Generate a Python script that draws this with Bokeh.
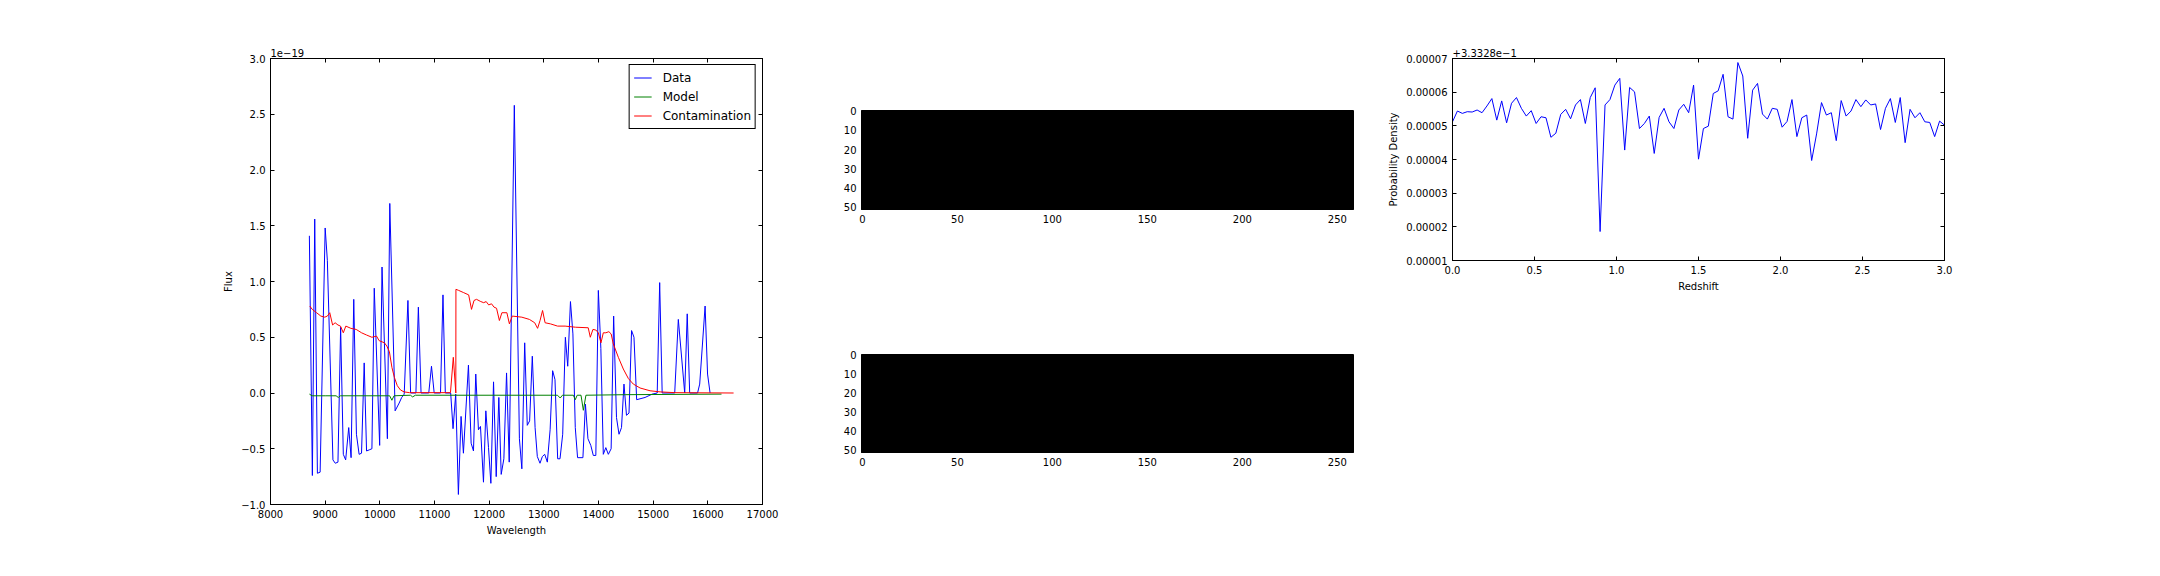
import numpy as np
from bokeh.plotting import figure
from bokeh.layouts import row, column
from bokeh.models import (Range1d, LinearAxis, FixedTicker, CustomJSTickFormatter,
                          LinearColorMapper, Spacer)
from bokeh.embed import file_html
from bokeh.resources import INLINE

# ---------------- data ----------------
# Spectrum panel (flux in units of 1e-19)
data_wave = [8711, 8766, 8809, 8858, 8908, 9000, 9040, 9142, 9185, 9234, 9283, 9332, 9375,
             9431, 9474, 9523, 9572, 9621, 9665, 9714, 9757, 9806, 9855, 9898, 9997, 10040,
             10138, 10182, 10280, 10354, 10400, 10446, 10514, 10563, 10660, 10705, 10754,
             10895, 10945, 10994, 11110, 11155, 11198, 11296, 11339, 11388, 11437, 11486,
             11529, 11621, 11670, 11713, 11755, 11804, 11841, 11896, 11939, 11988, 12031,
             12080, 12129, 12177, 12220, 12269, 12318, 12367, 12460, 12553, 12598, 12650,
             12697, 12740, 12789, 12840, 12881, 12930, 12973, 13016, 13064, 13115, 13161,
             13204, 13253, 13296, 13345, 13394, 13437, 13487, 13532, 13575, 13617, 13715,
             13761, 13807, 13859, 13905, 13951, 13997, 14043, 14088, 14134, 14180, 14231,
             14277, 14329, 14375, 14421, 14466, 14512, 14558, 14605, 14649, 14698, 14852,
             14982, 15074, 15119, 15165, 15394, 15460, 15577, 15623, 15668, 15812, 15851,
             15950, 15995, 16041]
data_flux = [1.41, -0.74, 1.56, -0.72, -0.71, 1.48, 1.19, -0.60, -0.63, -0.62, 0.59, -0.55, -0.60,
             -0.31, -0.58, 0.84, -0.37, -0.55, -0.54, 0.27, -0.52, -0.51, -0.50, 0.94, -0.47, 1.13,
             -0.41, 1.70, -0.16, -0.09, -0.04, -0.01, 0.83, 0.0, 0.0, 0.77, 0.0,
             0.0, 0.24, 0.0, 0.0, 0.88, 0.0, 0.0, -0.32, -0.01, -0.91, -0.21,
             -0.54, 0.25, -0.45, -0.52, 0.17, -0.33, -0.30, -0.80, -0.16, -0.49, -0.81,
             0.10, -0.75, -0.04, -0.73, -0.59, 0.18, -0.62, 2.58, -0.41, -0.68, 0.45,
             -0.29, -0.25, 0.33, -0.31, -0.57, -0.63, -0.57, -0.55, -0.62, -0.33, 0.20,
             0.12, -0.59, -0.59, -0.37, 0.50, 0.24, 0.82, 0.53, -0.31, -0.58, -0.58,
             -0.10, -0.41, -0.47, -0.56, -0.56, 0.92, 0.40, -0.55, -0.49, -0.55, -0.50,
             0.69, -0.22, -0.37, -0.31, 0.08, -0.20, -0.18, 0.56, 0.50, -0.06, -0.04,
             -0.01, 0.0, 0.99, 0.0, 0.0, 0.66, 0.0, 0.71, 0.0, 0.0, 0.08,
             0.78, 0.17, 0.0]

model_wave = [8712, 8760, 9000, 9200, 9240, 9280, 10180, 10220, 10260, 10560, 10600, 10650,
              13250, 13300, 13340, 13540, 13575, 13610, 13680, 13723, 13770, 14500, 16250]
model_flux = [-0.01, -0.025, -0.025, -0.025, -0.04, -0.025, -0.025, -0.065, -0.025, -0.02, -0.035,
              -0.02, -0.02, -0.045, -0.02, -0.02, -0.06, -0.02, -0.02, -0.155, -0.02, -0.015, -0.01]

contam_wave = [8718, 8764, 8843, 8921, 8993, 9040, 9084, 9136, 9182, 9234, 9280, 9332, 9378,
               9470, 9568, 9666, 9757, 9855, 9940, 9986, 10084, 10129, 10175, 10221, 10266,
               10319, 10378, 10443, 10541, 11292, 11344, 11390, 11392, 11442, 11534, 11625,
               11677, 11723, 11769, 11847, 11900, 11945, 11991, 12043, 12089, 12135, 12187,
               12233, 12324, 12370, 12422, 12598, 12736, 12833, 12886, 12931, 12977, 13023,
               13121, 13251, 13389, 13578, 13812, 13850, 13898, 13951, 13997, 14045, 14088,
               14134, 14190, 14231, 14271, 14363, 14454, 14546, 14637, 14760, 14943, 15126,
               15400, 16471]
contam_flux = [0.78, 0.75, 0.72, 0.69, 0.68, 0.69, 0.72, 0.61, 0.63, 0.61, 0.60, 0.54, 0.60,
               0.58, 0.57, 0.54, 0.52, 0.50, 0.51, 0.47, 0.45, 0.42, 0.37, 0.23, 0.14,
               0.066, 0.027, 0.01, 0.003, 0.003, 0.32, 0.0, 0.93, 0.92, 0.90, 0.88,
               0.75, 0.83, 0.84, 0.82, 0.81, 0.82, 0.79, 0.80, 0.77, 0.76, 0.65,
               0.72, 0.72, 0.62, 0.69, 0.68, 0.66, 0.63, 0.58, 0.65, 0.74, 0.63,
               0.62, 0.60, 0.60, 0.59, 0.585, 0.50, 0.57, 0.565, 0.54, 0.45, 0.54,
               0.54, 0.55, 0.53, 0.44, 0.32, 0.215, 0.13, 0.08, 0.045, 0.02, 0.01,
               0.003, 0.0]

wave_ticks = [8000, 9000, 10000, 11000, 12000, 13000, 14000, 15000, 16000, 17000]
flux_ticks = [-1.0, -0.5, 0.0, 0.5, 1.0, 1.5, 2.0, 2.5, 3.0]
flux_offset_text = "1e\u221219"

# Image panels (all-zero images shown black)
image_rows = 52
image_cols = 259
img_x_ticks = [0, 50, 100, 150, 200, 250]
img_y_ticks = [0, 10, 20, 30, 40, 50]

# Redshift probability panel (values in units of 1e-5, offset +3.3328e-1)
redshift = [0.00, 0.03, 0.06, 0.09, 0.12, 0.15, 0.18, 0.21, 0.24, 0.27, 0.30, 0.33, 0.36, 0.39,
            0.42, 0.45, 0.48, 0.51, 0.54, 0.57, 0.60, 0.63, 0.66, 0.69, 0.72, 0.75, 0.78, 0.81,
            0.84, 0.87, 0.90, 0.93, 0.96, 0.99, 1.02, 1.05, 1.08, 1.11, 1.14, 1.17, 1.20, 1.23,
            1.26, 1.29, 1.32, 1.35, 1.38, 1.41, 1.44, 1.47, 1.50, 1.53, 1.56, 1.59, 1.62, 1.65,
            1.68, 1.71, 1.74, 1.77, 1.80, 1.83, 1.86, 1.89, 1.92, 1.95, 1.98, 2.01, 2.04, 2.07,
            2.10, 2.13, 2.16, 2.19, 2.22, 2.25, 2.28, 2.31, 2.34, 2.37, 2.40, 2.43, 2.46, 2.49,
            2.52, 2.55, 2.58, 2.61, 2.64, 2.67, 2.70, 2.73, 2.76, 2.79, 2.82, 2.85, 2.88, 2.91,
            2.94, 2.97, 3.00]
prob_e5 = [5.12, 5.44, 5.37, 5.42, 5.41, 5.47, 5.39, 5.59, 5.81, 5.17, 5.74, 5.09, 5.67, 5.84,
           5.52, 5.29, 5.45, 5.07, 5.27, 5.24, 4.66, 4.78, 5.34, 5.49, 5.21, 5.62, 5.78, 5.07,
           5.84, 6.13, 1.86, 5.62, 5.78, 6.21, 6.41, 4.28, 6.14, 6.01, 4.92, 5.07, 5.29, 4.18,
           5.25, 5.52, 5.12, 4.92, 5.47, 5.64, 5.39, 6.21, 4.01, 4.92, 4.99, 5.96, 6.04, 6.53,
           5.27, 5.20, 6.88, 6.48, 4.63, 6.06, 6.26, 5.35, 5.20, 5.52, 5.49, 4.96, 5.13, 5.78,
           4.68, 5.24, 5.32, 3.97, 4.76, 5.69, 5.32, 5.39, 4.56, 5.75, 5.29, 5.44, 5.78, 5.57,
           5.77, 5.62, 5.65, 4.89, 5.52, 5.81, 5.10, 5.84, 4.50, 5.49, 5.24, 5.39, 5.12, 5.10,
           4.68, 5.14, 5.02]
z_ticks = [0.0, 0.5, 1.0, 1.5, 2.0, 2.5, 3.0]
prob_ticks = [1, 2, 3, 4, 5, 6, 7]
prob_offset_text = "+3.3328e\u22121"

FONT = "DejaVu Sans"


def style_axis(ax, ticks, formatter=None, labels=True):
    ax.ticker = FixedTicker(ticks=ticks)
    if formatter is not None:
        ax.formatter = formatter
    ax.major_tick_in = 4
    ax.major_tick_out = 0
    ax.minor_tick_line_color = None
    ax.axis_line_color = "black"
    ax.major_tick_line_color = "black"
    ax.major_label_text_font = FONT
    ax.axis_label_text_font = FONT
    ax.axis_label_text_font_size = "10px"
    ax.axis_label_text_font_style = "normal"
    ax.axis_label_text_color = "black"
    ax.axis_label_standoff = 4
    if labels:
        ax.major_label_text_font_size = "10px"
        ax.major_label_text_color = "black"
        ax.major_label_standoff = 5
    else:
        ax.major_label_text_color = None
        ax.major_label_text_font_size = "1px"
        ax.major_label_standoff = 0


def base_fig(w, h, l, r, t, b, xr, yr, title=None):
    kw = {}
    if title is not None:
        kw["title"] = title
    p = figure(width=w, height=h, x_range=xr, y_range=yr, output_backend="svg",
               toolbar_location=None, min_border_left=l, min_border_right=r,
               min_border_top=t, min_border_bottom=b, **kw)
    p.xgrid.visible = False
    p.ygrid.visible = False
    p.outline_line_color = "black"
    p.outline_line_width = 1
    p.outline_line_alpha = 1
    p.background_fill_color = "white"
    p.border_fill_color = "white"
    if title is not None:
        p.title.align = "left"
        p.title.text_font = FONT
        p.title.text_font_size = "10px"
        p.title.text_font_style = "normal"
        p.title.text_color = "black"
        p.title.standoff = 4
        p.title.offset = 0
    return p


fmt_int = CustomJSTickFormatter(code="return tick.toFixed(0);")
fmt_1 = CustomJSTickFormatter(code="var s = Math.abs(tick).toFixed(1); return (tick < 0 ? '\u2212' : '') + s;")

# ---------------- left: spectrum ----------------
pl = base_fig(812, 576, 270, 50, 58, 72, Range1d(8000, 17000), Range1d(-1.0, 3.0),
              title=flux_offset_text)
pl.line(data_wave, data_flux, line_color="#0000ff", line_width=1, legend_label="Data")
pl.line(model_wave, model_flux, line_color="#008000", line_width=1, legend_label="Model")
pl.line(contam_wave, contam_flux, line_color="#ff0000", line_width=1, legend_label="Contamination")
style_axis(pl.xaxis[0], wave_ticks, fmt_int)
style_axis(pl.yaxis[0], flux_ticks, fmt_1)
pl.xaxis[0].axis_label = "Wavelength"
pl.yaxis[0].axis_label = "Flux"
ax_t = LinearAxis(); style_axis(ax_t, wave_ticks, labels=False); pl.add_layout(ax_t, "above")
ax_r = LinearAxis(); style_axis(ax_r, flux_ticks, labels=False); pl.add_layout(ax_r, "right")
lg = pl.legend[0]
lg.location = "top_right"
lg.margin = 6
lg.padding = 4
lg.spacing = 2
lg.label_height = 17
lg.glyph_height = 17
lg.glyph_width = 18
lg.label_standoff = 11
lg.border_line_color = "black"
lg.border_line_width = 1
lg.border_line_alpha = 1
lg.background_fill_alpha = 1
lg.label_text_font = FONT
lg.label_text_font_size = "12px"
lg.label_text_color = "black"

# ---------------- middle: images ----------------
mapper = LinearColorMapper(palette=["#000000"], low=0, high=1)
img = np.zeros((image_rows, image_cols))


def image_fig(h, t, b, frame_h):
    p = base_fig(558, h, 49, 17, t, h - t - frame_h,
                 Range1d(-0.5, image_cols - 0.5), Range1d(image_rows - 0.5, -0.5))
    p.image(image=[img], x=-0.5, y=-0.5, dw=image_cols, dh=image_rows, color_mapper=mapper)
    style_axis(p.xaxis[0], img_x_ticks, fmt_int)
    style_axis(p.yaxis[0], img_y_ticks, fmt_int)
    return p


pm1 = image_fig(282, 110, 73, 99)
pm2 = image_fig(294, 72, 124, 98)

# ---------------- right: redshift PDF ----------------
pr = base_fig(790, 310, 82, 216, 58, 50, Range1d(0.0, 3.0), Range1d(1, 7),
              title=prob_offset_text)
pr.line(redshift, prob_e5, line_color="#0000ff", line_width=1)
fmt_z = CustomJSTickFormatter(code="return tick.toFixed(1);")
fmt_p = CustomJSTickFormatter(code="return (tick * 1e-5).toFixed(5);")
style_axis(pr.xaxis[0], z_ticks, fmt_z)
style_axis(pr.yaxis[0], prob_ticks, fmt_p)
pr.xaxis[0].axis_label = "Redshift"
pr.yaxis[0].axis_label = "Probability Density"
ax_t2 = LinearAxis(); style_axis(ax_t2, z_ticks, labels=False); pr.add_layout(ax_t2, "above")
ax_r2 = LinearAxis(); style_axis(ax_r2, prob_ticks, labels=False); pr.add_layout(ax_r2, "right")

layout = row(pl, column(pm1, pm2), column(pr, Spacer(width=790, height=266)))
open("out.html", "w").write(file_html(layout, INLINE))
